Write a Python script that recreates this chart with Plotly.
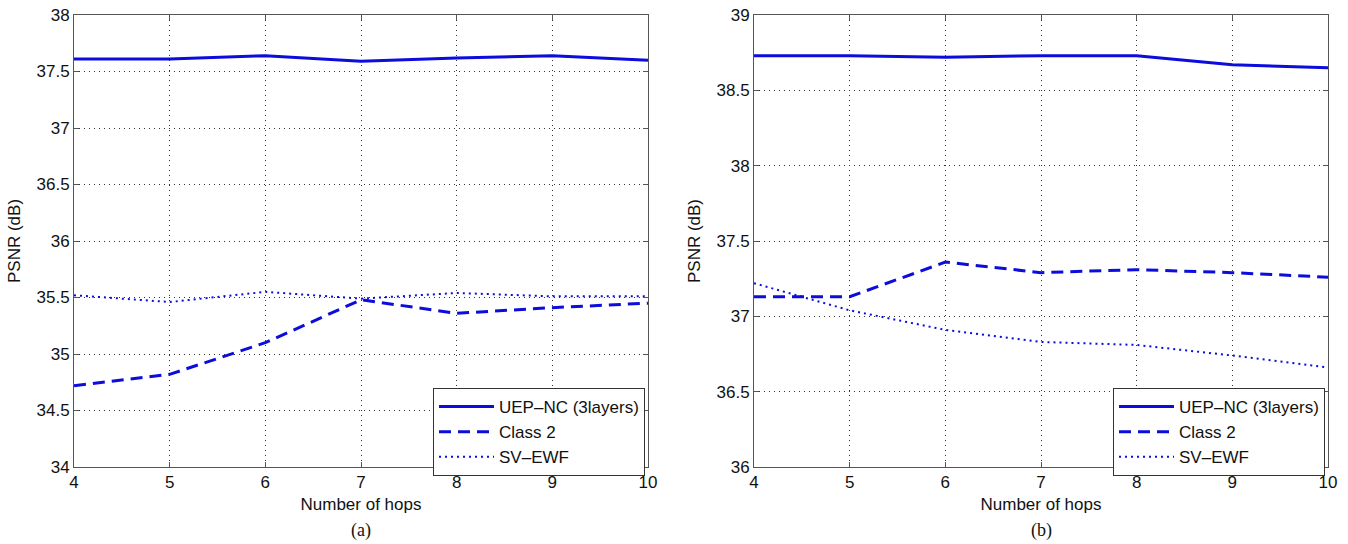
import plotly.graph_objects as go

hops = [4, 5, 6, 7, 8, 9, 10]

# Panel (a)
a_uep = [37.61, 37.61, 37.64, 37.59, 37.62, 37.64, 37.60]
a_class2 = [34.72, 34.82, 35.10, 35.48, 35.36, 35.41, 35.45]
a_svewf = [35.52, 35.46, 35.55, 35.49, 35.54, 35.51, 35.51]

# Panel (b)
b_uep = [38.73, 38.73, 38.72, 38.73, 38.73, 38.67, 38.65]
b_class2 = [37.13, 37.13, 37.36, 37.29, 37.31, 37.29, 37.26]
b_svewf = [37.22, 37.04, 36.91, 36.83, 36.81, 36.74, 36.66]

series_names = ["UEP\u2013NC (3layers)", "Class 2", "SV\u2013EWF"]
a_ticks = [34, 34.5, 35, 35.5, 36, 36.5, 37, 37.5, 38]
b_ticks = [36, 36.5, 37, 37.5, 38, 38.5, 39]

BLUE = "#0c0cdc"
FONT = "Liberation Sans, Arial, sans-serif"
SERIF = "Liberation Serif, Times New Roman, serif"
styles = [dict(width=3, dash="solid"), dict(width=3, dash="12px,7px"), dict(width=2, dash="2px,4px")]

fig = go.Figure()
for data, xa, ya, lg in [([a_uep, a_class2, a_svewf], "x", "y", "legend"),
                         ([b_uep, b_class2, b_svewf], "x2", "y2", "legend2")]:
    for name, vals, st in zip(series_names, data, styles):
        fig.add_trace(go.Scatter(x=hops, y=vals, mode="lines", name=name,
                                 line=dict(color=BLUE, **st), xaxis=xa, yaxis=ya,
                                 legend=lg, showlegend=True))

ax_common = dict(showline=True, linecolor="#555", linewidth=1, mirror="allticks",
                 ticks="inside", ticklen=5, tickcolor="#555", automargin=False,
                 showgrid=True, gridcolor="#333", griddash="1px,4px", gridwidth=1,
                 zeroline=False, tickfont=dict(family=FONT, size=17, color="#111"))

W, H = 1348, 544
y0, y1 = 1 - 467 / H, 1 - 15 / H
title_font = dict(family=FONT, size=17, color="#111")
legend_common = dict(xanchor="right", yanchor="top", bordercolor="#333", borderwidth=1,
                     bgcolor="white", font=dict(family=FONT, size=17, color="#111"),
                     tracegroupgap=0, itemwidth=55)
fig.update_layout(
    width=W, height=H, margin=dict(l=0, r=0, t=0, b=0, autoexpand=False),
    paper_bgcolor="white", plot_bgcolor="white",
    font=dict(family=FONT, color="#111"),
    xaxis=dict(domain=[74 / W, 648 / W], range=[4, 10], tickvals=hops, anchor="y",
               title=dict(text="Number of hops", font=title_font, standoff=6), **ax_common),
    yaxis=dict(domain=[y0, y1], range=[34, 38], tickvals=a_ticks, anchor="x",
               title=dict(text="PSNR (dB)", font=title_font, standoff=11), **ax_common),
    xaxis2=dict(domain=[754 / W, 1328 / W], range=[4, 10], tickvals=hops, anchor="y2",
                title=dict(text="Number of hops", font=title_font, standoff=6), **ax_common),
    yaxis2=dict(domain=[y0, y1], range=[36, 39], tickvals=b_ticks, anchor="x2",
                title=dict(text="PSNR (dB)", font=title_font, standoff=11), **ax_common),
    legend=dict(x=645 / W, y=1 - 388 / H, **legend_common),
    legend2=dict(x=1325 / W, y=1 - 388 / H, **legend_common),
    annotations=[
        dict(text="(a)", x=361 / W, y=1 - 530 / H, xref="paper", yref="paper",
             xanchor="center", yanchor="middle",
             showarrow=False, font=dict(family=SERIF, size=18, color="#111")),
        dict(text="(b)", x=1041 / W, y=1 - 530 / H, xref="paper", yref="paper",
             xanchor="center", yanchor="middle",
             showarrow=False, font=dict(family=SERIF, size=18, color="#111")),
    ],
)

fig.write_html("out.html")
